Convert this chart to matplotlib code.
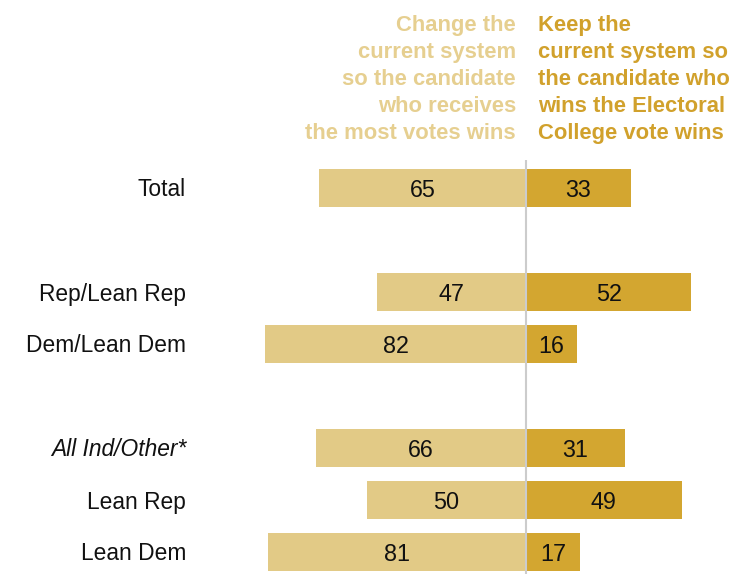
import matplotlib
matplotlib.use("Agg")
import matplotlib.pyplot as plt

categories = ["Total", "Rep/Lean Rep", "Dem/Lean Dem", "All Ind/Other*", "Lean Rep", "Lean Dem"]
positions = [0, 2, 3, 5, 6, 7]
change_vals = [65, 47, 82, 66, 50, 81]
keep_vals = [33, 52, 16, 31, 49, 17]
italic_flags = [False, False, False, True, False, False]
header_change = "Change the\ncurrent system\nso the candidate\nwho receives\nthe most votes wins"
header_keep = "Keep the\ncurrent system so\nthe candidate who\nwins the Electoral\nCollege vote wins"

LIGHT = "#E2CA86"
DARK = "#D3A630"
HLIGHT = "#E6CF90"
HDARK = "#D1A12C"
FONT = ["Liberation Sans Narrow", "Liberation Sans", "DejaVu Sans"]

W, H = 736, 574
fig = plt.figure(figsize=(W / 100, H / 100), dpi=100)
ax_left, ax_right, ax_top, ax_bot = 200, 736, 160, 574
ax = fig.add_axes([ax_left / W, 1 - ax_bot / H, (ax_right - ax_left) / W, (ax_bot - ax_top) / H])
ppu = 3.18
center_px = 526
ax.set_xlim(-(center_px - ax_left) / ppu, (ax_right - center_px) / ppu)
row_px = 52
ax.set_ylim(7 + (ax_bot - 552) / row_px, 0 - (188 - ax_top) / row_px)
ax.axis("off")

bh = 0.73
ax.barh(positions, [-v for v in change_vals], height=bh, color=LIGHT, edgecolor="none")
ax.barh(positions, keep_vals, height=bh, color=DARK, edgecolor="none")
ax.axvline(0, color="#CCCCCC", lw=1.5, zorder=3)

dy = 0.045
for p, c, k in zip(positions, change_vals, keep_vals):
    ax.text(-c / 2, p + dy, str(c), ha="center", va="center", fontsize=16.8, family=FONT, color="#111111")
    ax.text(k / 2, p + dy, str(k), ha="center", va="center", fontsize=16.8, family=FONT, color="#111111")

for p, cat, it in zip(positions, categories, italic_flags):
    fig.text(186 / W, 1 - (190 + (p * row_px)) / H, cat, ha="right", va="center", fontsize=16.4,
             family=FONT, style="italic" if it else "normal", color="#111111")

fig.text(516 / W, 1 - 14.5 / H, header_change, ha="right", va="top", fontsize=15.8, fontweight="bold",
         family=FONT, color=HLIGHT, linespacing=1.39)
fig.text(538 / W, 1 - 14.5 / H, header_keep, ha="left", va="top", fontsize=15.8, fontweight="bold",
         family=FONT, color=HDARK, linespacing=1.39)

fig.savefig("out.png", dpi=100)
